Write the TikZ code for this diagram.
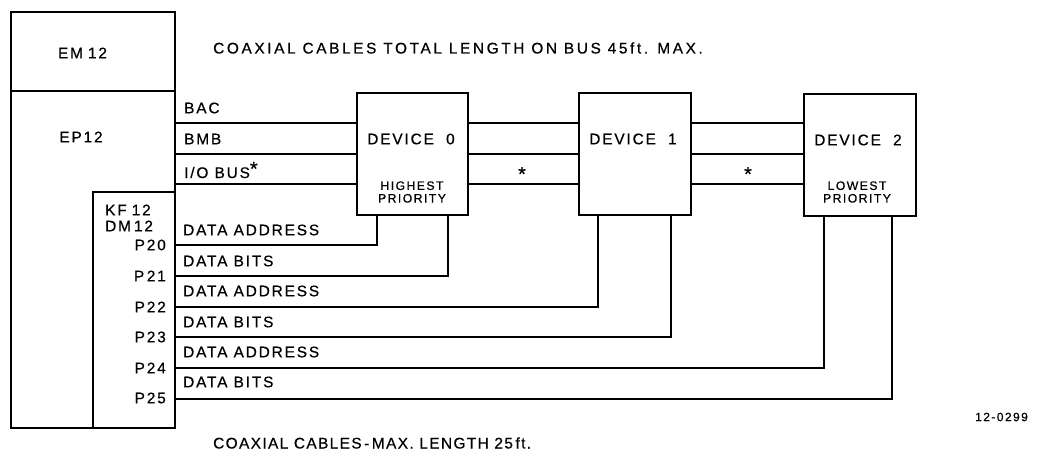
\documentclass[tikz,border=0pt]{standalone}
\usepackage{fontspec}
\setmainfont{Liberation Sans}[LetterSpace=12, FakeBold=0.6]
\begin{document}
\begin{tikzpicture}[x=1pt,y=-1pt,
  blk/.style={draw, line width=1.8pt, inner sep=0pt, outer sep=0pt},
  wire/.style={line width=1.1pt},
  lbl/.style={inner sep=0pt, font=\fontsize{15.4}{17}\selectfont},
  lbll/.style={lbl, anchor=west},
  star/.style={inner sep=0pt, font=\fontsize{20}{20}\selectfont},
  small/.style={inner sep=0pt, font=\fontsize{12.2}{12.6}\selectfont, align=center}]
\useasboundingbox (0,0) rectangle (1037,453);
% main blocks
\node[blk, minimum width=164pt, minimum height=79pt] (em) at (93,51.5) {};
\node[blk, minimum width=164pt, minimum height=337pt] (ep) at (93,259.5) {};
\node[blk, minimum width=82pt, minimum height=236pt] (kf) at (134,310) {};
\node[lbl] (emt) at (82.5,53) {EM\hspace{5pt}12};
\node[lbl] (ept) at (81,137) {EP12};
\node[lbl, anchor=west] (kft) at (105,210) {KF\hspace{5pt}12};
\node[lbl, anchor=west] (dmt) at (105,226) {DM\hspace{3pt}12};
% devices
\node[blk, minimum width=111pt, minimum height=122pt] (d0) at (412.5,154) {};
\node[blk, minimum width=112pt, minimum height=122pt] (d1) at (635,154) {};
\node[blk, minimum width=112pt, minimum height=122pt] (d2) at (860,155) {};
\node[lbl] (d0t) at (411,139) {DEVICE\ \ 0};
\node[lbl] (d1t) at (633,139) {DEVICE\ \ 1};
\node[lbl] (d2t) at (858,140) {DEVICE\ \ 2};
\node[small] (d0p) at (412,192) {HIGHEST\\PRIORITY};
\node[small] (d2p) at (857,192) {LOWEST\\PRIORITY};
% bus rows
\coordinate (r1) at (0,123);
\coordinate (r2) at (0,154);
\coordinate (r3) at (0,184);
\foreach \r in {r1,r2,r3}{
  \draw[wire] (ep.east |- \r) -- (d0.west |- \r);
  \draw[wire] (d0.east |- \r) -- (d1.west |- \r);
  \draw[wire] (d1.east |- \r) -- (d2.west |- \r);
}
\node[lbll] (bac) at (184,108) {BAC};
\node[lbll] (bmb) at (184,139) {BMB};
\node[lbll] (iob) at (184,170) {I/O BUS\raisebox{0.3ex}{\fontsize{20}{20}\selectfont*}};
\node[star] (s1) at (522,174) {*};
\node[star] (s2) at (748,174) {*};
% data rows
\coordinate (p0) at (0,245);
\coordinate (p1) at (0,276);
\coordinate (p2) at (0,307);
\coordinate (p3) at (0,337);
\coordinate (p4) at (0,368);
\coordinate (p5) at (0,399);
\coordinate (x0) at (377,0);
\coordinate (x1) at (448,0);
\coordinate (x2) at (598,0);
\coordinate (x3) at (671,0);
\coordinate (x4) at (824,0);
\coordinate (x5) at (892,0);
\draw[wire] (kf.east |- p0) -| (d0.south -| x0);
\draw[wire] (kf.east |- p1) -| (d0.south -| x1);
\draw[wire] (kf.east |- p2) -| (d1.south -| x2);
\draw[wire] (kf.east |- p3) -| (d1.south -| x3);
\draw[wire] (kf.east |- p4) -| (d2.south -| x4);
\draw[wire] (kf.east |- p5) -| (d2.south -| x5);
\node[lbl, anchor=east] (P0) at (166,245) {P20};
\node[lbl, anchor=east] (P1) at (166,276) {P\,21};
\node[lbl, anchor=east] (P2) at (166,307) {P22};
\node[lbl, anchor=east] (P3) at (166,337) {P23};
\node[lbl, anchor=east] (P4) at (166,368) {P24};
\node[lbl, anchor=east] (P5) at (166,398) {P25};
\node[lbll] (a0) at (183,230) {DATA ADDRESS};
\node[lbll] (b0) at (183,261) {DATA BITS};
\node[lbll] (a1) at (183,291) {DATA ADDRESS};
\node[lbll] (b1) at (183,322) {DATA BITS};
\node[lbll] (a2) at (183,352) {DATA ADDRESS};
\node[lbll] (b2) at (183,382) {DATA BITS};
% captions
\node[lbll] (top) at (213,48) {\addfontfeature{LetterSpace=17}COAXIAL CABLES TOTAL LENGTH ON BUS 45\,ft. MAX.};
\node[lbll] (bot) at (213,443) {\addfontfeature{LetterSpace=9}COAXIAL CABLES{\,-\,}MAX. LENGTH 25\,ft.};
\node[inner sep=0pt, anchor=west, font=\fontsize{12}{13}\selectfont] (fig) at (975,417) {12-0299};
\end{tikzpicture}
\end{document}
